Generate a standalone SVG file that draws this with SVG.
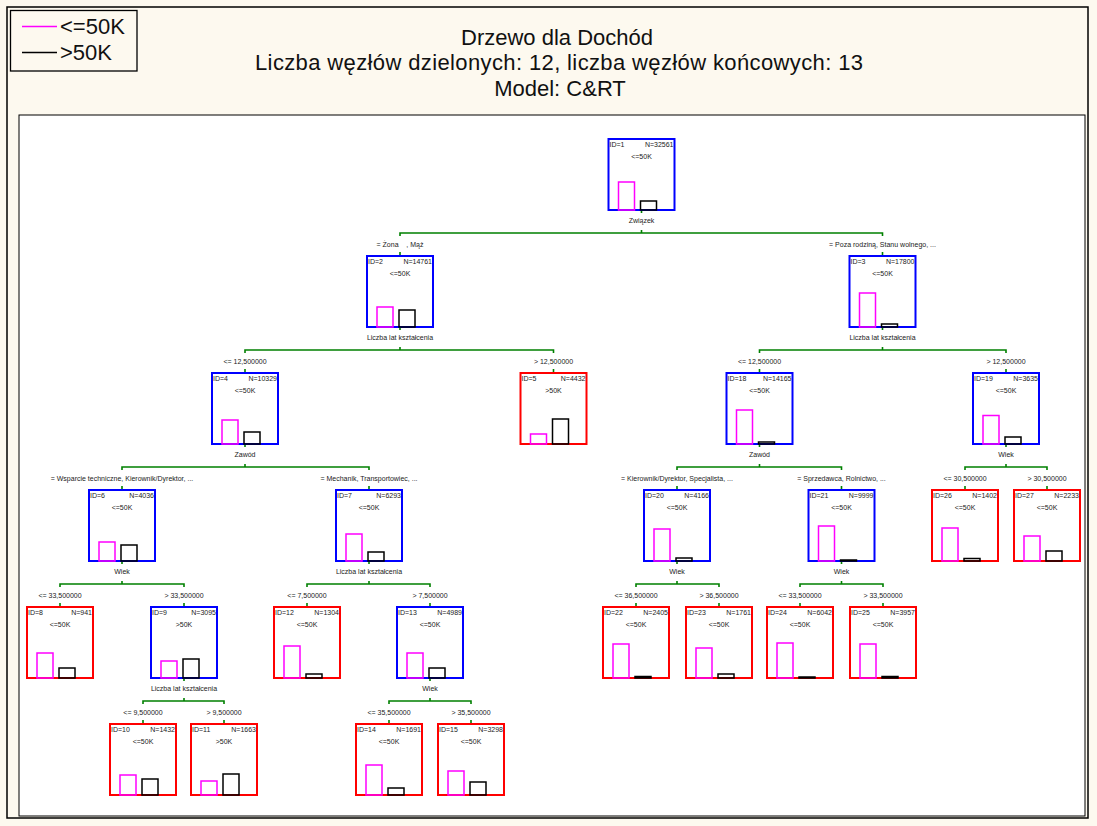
<svg xmlns="http://www.w3.org/2000/svg" width="1097" height="826" viewBox="0 0 1097 826">
<style>
.bg{fill:#fdf9ef}
.frame{fill:none;stroke:#000;stroke-width:1.5}
.plot{fill:#fff;stroke:#000;stroke-width:1}
.nb{fill:#fff;stroke:#0000ff;stroke-width:2}
.nr{fill:#fff;stroke:#ff0000;stroke-width:2}
.bm{fill:none;stroke:#ff00ff;stroke-width:1.5}
.bk{fill:none;stroke:#000;stroke-width:1.5}
.t{font-family:"Liberation Sans",Arial,sans-serif;font-size:7px;fill:#222}
.m{text-anchor:middle}
.e{text-anchor:end}
.title{font-family:"Liberation Sans",Arial,sans-serif;font-size:22px;fill:#111;text-anchor:middle}
.leg{font-family:"Liberation Sans",Arial,sans-serif;font-size:22px;fill:#111}
.conn{fill:none;stroke:#008000;stroke-width:1.6}
</style>
<rect class="bg" x="0" y="0" width="1097" height="826"/>
<rect class="frame" x="7" y="7" width="1081" height="811"/>
<rect class="plot" x="19" y="115" width="1066" height="701"/>
<g id="legend">
<rect x="10.5" y="10.5" width="126.5" height="60.5" fill="#fdf9ef" stroke="#000" stroke-width="1.3"/>
<line x1="22" y1="26.5" x2="57" y2="26.5" stroke="#ff00ff" stroke-width="1.3"/>
<text class="leg" x="60" y="34">&lt;=50K</text>
<line x1="22" y1="52.5" x2="57" y2="52.5" stroke="#000" stroke-width="1.3"/>
<text class="leg" x="60" y="60">&gt;50K</text>
</g>
<g id="title">
<text class="title" x="557" y="45">Drzewo dla Dochód</text>
<text class="title" x="559" y="70" textLength="608" lengthAdjust="spacing">Liczba węzłów dzielonych: 12, liczba węzłów końcowych: 13</text>
<text class="title" x="560" y="96">Model: C&amp;RT</text>
</g>
<g id="connectors" class="conn">
<path d="M641.5 210V213M400 236V233H882.5V236M641.5 233V230M400 252V256M882.5 252V256"/>
<path d="M400 327V330M245 353V350H553.5V353M400 350V347M245 369V373M553.5 369V373"/>
<path d="M882.5 327V330M759.5 353V350H1006V353M882.5 350V347M759.5 369V373M1006 369V373"/>
<path d="M245 444V447M122 470V467H369V470M245 467V464M122 486V490M369 486V490"/>
<path d="M759.5 444V447M677 470V467H841.5V470M759.5 467V464M677 486V490M841.5 486V490"/>
<path d="M1006 444V447M965 470V467H1047V470M1006 467V464M965 486V490M1047 486V490"/>
<path d="M122 561V564M60 587V584H184V587M122 584V581M60 603V607M184 603V607"/>
<path d="M369 561V564M307 587V584H430V587M369 584V581M307 603V607M430 603V607"/>
<path d="M677 561V564M636 587V584H719V587M677 584V581M636 603V607M719 603V607"/>
<path d="M841.5 561V564M800 587V584H883V587M841.5 584V581M800 603V607M883 603V607"/>
<path d="M184 678V681M143 704V701H224V704M184 701V698M143 720V724M224 720V724"/>
<path d="M430 678V681M389 704V701H471V704M430 701V698M389 720V724M471 720V724"/>
</g>
<g id="edge-labels" class="t m">
<text x="400" y="247" xml:space="preserve">= Żona    , Mąż</text>
<text x="882.5" y="247">= Poza rodziną, Stanu wolnego, ...</text>
<text x="245" y="364">&lt;= 12,500000</text>
<text x="553.5" y="364">&gt; 12,500000</text>
<text x="759.5" y="364">&lt;= 12,500000</text>
<text x="1006" y="364">&gt; 12,500000</text>
<text x="122" y="481">= Wsparcie techniczne, Kierownik/Dyrektor, ...</text>
<text x="369" y="481">= Mechanik, Transportowiec, ...</text>
<text x="677" y="481">= Kierownik/Dyrektor, Specjalista, ...</text>
<text x="841.5" y="481">= Sprzedawca, Rolnictwo, ...</text>
<text x="965" y="481">&lt;= 30,500000</text>
<text x="1047" y="481">&gt; 30,500000</text>
<text x="60" y="598">&lt;= 33,500000</text>
<text x="184" y="598">&gt; 33,500000</text>
<text x="307" y="598">&lt;= 7,500000</text>
<text x="430" y="598">&gt; 7,500000</text>
<text x="636" y="598">&lt;= 36,500000</text>
<text x="719" y="598">&gt; 36,500000</text>
<text x="800" y="598">&lt;= 33,500000</text>
<text x="883" y="598">&gt; 33,500000</text>
<text x="143" y="715">&lt;= 9,500000</text>
<text x="224" y="715">&gt; 9,500000</text>
<text x="389" y="715">&lt;= 35,500000</text>
<text x="471" y="715">&gt; 35,500000</text>
</g>
<g id="split-labels" class="t m">
<text x="641.5" y="223">Związek</text>
<text x="400" y="340">Liczba lat kształcenia</text>
<text x="882.5" y="340">Liczba lat kształcenia</text>
<text x="245" y="457">Zawód</text>
<text x="759.5" y="457">Zawód</text>
<text x="1006" y="457">Wiek</text>
<text x="122" y="574">Wiek</text>
<text x="369" y="574">Liczba lat kształcenia</text>
<text x="677" y="574">Wiek</text>
<text x="841.5" y="574">Wiek</text>
<text x="184" y="691">Liczba lat kształcenia</text>
<text x="430" y="691">Wiek</text>
</g>
<g id="node1"><rect class="nb" x="608.5" y="139" width="66" height="71"/><text class="t" x="609.5" y="146.5">ID=1</text><text class="t e" x="673.5" y="146.5">N=32561</text><text class="t m" x="641.5" y="159">&lt;=50K</text><rect class="bm" x="618.5" y="182" width="16" height="28"/><rect class="bk" x="640.5" y="201" width="16" height="9"/></g>
<g id="node2"><rect class="nb" x="367" y="256" width="66" height="71"/><text class="t" x="368" y="263.5">ID=2</text><text class="t e" x="432" y="263.5">N=14761</text><text class="t m" x="400" y="276">&lt;=50K</text><rect class="bm" x="377" y="307" width="16" height="20"/><rect class="bk" x="399" y="310" width="16" height="17"/></g>
<g id="node3"><rect class="nb" x="849.5" y="256" width="66" height="71"/><text class="t" x="850.5" y="263.5">ID=3</text><text class="t e" x="914.5" y="263.5">N=17800</text><text class="t m" x="882.5" y="276">&lt;=50K</text><rect class="bm" x="859.5" y="293" width="16" height="34"/><rect class="bk" x="881.5" y="324" width="16" height="3"/></g>
<g id="node4"><rect class="nb" x="212" y="373" width="66" height="71"/><text class="t" x="213" y="380.5">ID=4</text><text class="t e" x="277" y="380.5">N=10329</text><text class="t m" x="245" y="393">&lt;=50K</text><rect class="bm" x="222" y="420" width="16" height="24"/><rect class="bk" x="244" y="432" width="16" height="12"/></g>
<g id="node5"><rect class="nr" x="520.5" y="373" width="66" height="71"/><text class="t" x="521.5" y="380.5">ID=5</text><text class="t e" x="585.5" y="380.5">N=4432</text><text class="t m" x="553.5" y="393">&gt;50K</text><rect class="bm" x="530.5" y="434" width="16" height="10"/><rect class="bk" x="552.5" y="419" width="16" height="25"/></g>
<g id="node18"><rect class="nb" x="726.5" y="373" width="66" height="71"/><text class="t" x="727.5" y="380.5">ID=18</text><text class="t e" x="791.5" y="380.5">N=14165</text><text class="t m" x="759.5" y="393">&lt;=50K</text><rect class="bm" x="736.5" y="410" width="16" height="34"/><rect class="bk" x="758.5" y="442" width="16" height="2"/></g>
<g id="node19"><rect class="nb" x="973" y="373" width="66" height="71"/><text class="t" x="974" y="380.5">ID=19</text><text class="t e" x="1038" y="380.5">N=3635</text><text class="t m" x="1006" y="393">&lt;=50K</text><rect class="bm" x="983" y="415.5" width="16" height="28.5"/><rect class="bk" x="1005" y="437" width="16" height="7"/></g>
<g id="node6"><rect class="nb" x="89" y="490" width="66" height="71"/><text class="t" x="90" y="497.5">ID=6</text><text class="t e" x="154" y="497.5">N=4036</text><text class="t m" x="122" y="510">&lt;=50K</text><rect class="bm" x="99" y="542" width="16" height="19"/><rect class="bk" x="121" y="545" width="16" height="16"/></g>
<g id="node7"><rect class="nb" x="336" y="490" width="66" height="71"/><text class="t" x="337" y="497.5">ID=7</text><text class="t e" x="401" y="497.5">N=6293</text><text class="t m" x="369" y="510">&lt;=50K</text><rect class="bm" x="346" y="534" width="16" height="27"/><rect class="bk" x="368" y="552" width="16" height="9"/></g>
<g id="node20"><rect class="nb" x="644" y="490" width="66" height="71"/><text class="t" x="645" y="497.5">ID=20</text><text class="t e" x="709" y="497.5">N=4166</text><text class="t m" x="677" y="510">&lt;=50K</text><rect class="bm" x="654" y="529" width="16" height="32"/><rect class="bk" x="676" y="558" width="16" height="3"/></g>
<g id="node21"><rect class="nb" x="808.5" y="490" width="66" height="71"/><text class="t" x="809.5" y="497.5">ID=21</text><text class="t e" x="873.5" y="497.5">N=9999</text><text class="t m" x="841.5" y="510">&lt;=50K</text><rect class="bm" x="818.5" y="526" width="16" height="35"/><rect class="bk" x="840.5" y="560" width="16" height="1"/></g>
<g id="node26"><rect class="nr" x="932" y="490" width="66" height="71"/><text class="t" x="933" y="497.5">ID=26</text><text class="t e" x="997" y="497.5">N=1402</text><text class="t m" x="965" y="510">&lt;=50K</text><rect class="bm" x="942" y="528" width="16" height="33"/><rect class="bk" x="964" y="558.5" width="16" height="2.5"/></g>
<g id="node27"><rect class="nr" x="1014" y="490" width="66" height="71"/><text class="t" x="1015" y="497.5">ID=27</text><text class="t e" x="1079" y="497.5">N=2233</text><text class="t m" x="1047" y="510">&lt;=50K</text><rect class="bm" x="1024" y="536" width="16" height="25"/><rect class="bk" x="1046" y="551" width="16" height="10"/></g>
<g id="node8"><rect class="nr" x="27" y="607" width="66" height="71"/><text class="t" x="28" y="614.5">ID=8</text><text class="t e" x="92" y="614.5">N=941</text><text class="t m" x="60" y="627">&lt;=50K</text><rect class="bm" x="37" y="653" width="16" height="25"/><rect class="bk" x="59" y="668" width="16" height="10"/></g>
<g id="node9"><rect class="nb" x="151" y="607" width="66" height="71"/><text class="t" x="152" y="614.5">ID=9</text><text class="t e" x="216" y="614.5">N=3095</text><text class="t m" x="184" y="627">&gt;50K</text><rect class="bm" x="161" y="661" width="16" height="17"/><rect class="bk" x="183" y="659" width="16" height="19"/></g>
<g id="node12"><rect class="nr" x="274" y="607" width="66" height="71"/><text class="t" x="275" y="614.5">ID=12</text><text class="t e" x="339" y="614.5">N=1304</text><text class="t m" x="307" y="627">&lt;=50K</text><rect class="bm" x="284" y="646" width="16" height="32"/><rect class="bk" x="306" y="674" width="16" height="4"/></g>
<g id="node13"><rect class="nb" x="397" y="607" width="66" height="71"/><text class="t" x="398" y="614.5">ID=13</text><text class="t e" x="462" y="614.5">N=4989</text><text class="t m" x="430" y="627">&lt;=50K</text><rect class="bm" x="407" y="653" width="16" height="25"/><rect class="bk" x="429" y="668" width="16" height="10"/></g>
<g id="node22"><rect class="nr" x="603" y="607" width="66" height="71"/><text class="t" x="604" y="614.5">ID=22</text><text class="t e" x="668" y="614.5">N=2405</text><text class="t m" x="636" y="627">&lt;=50K</text><rect class="bm" x="613" y="644" width="16" height="34"/><rect class="bk" x="635" y="676.5" width="16" height="1.5"/></g>
<g id="node23"><rect class="nr" x="686" y="607" width="66" height="71"/><text class="t" x="687" y="614.5">ID=23</text><text class="t e" x="751" y="614.5">N=1761</text><text class="t m" x="719" y="627">&lt;=50K</text><rect class="bm" x="696" y="648" width="16" height="30"/><rect class="bk" x="718" y="674" width="16" height="4"/></g>
<g id="node24"><rect class="nr" x="767" y="607" width="66" height="71"/><text class="t" x="768" y="614.5">ID=24</text><text class="t e" x="832" y="614.5">N=6042</text><text class="t m" x="800" y="627">&lt;=50K</text><rect class="bm" x="777" y="643" width="16" height="35"/><rect class="bk" x="799" y="677" width="16" height="1"/></g>
<g id="node25"><rect class="nr" x="850" y="607" width="66" height="71"/><text class="t" x="851" y="614.5">ID=25</text><text class="t e" x="915" y="614.5">N=3957</text><text class="t m" x="883" y="627">&lt;=50K</text><rect class="bm" x="860" y="644" width="16" height="34"/><rect class="bk" x="882" y="676.5" width="16" height="1.5"/></g>
<g id="node10"><rect class="nr" x="110" y="724" width="66" height="71"/><text class="t" x="111" y="731.5">ID=10</text><text class="t e" x="175" y="731.5">N=1432</text><text class="t m" x="143" y="744">&lt;=50K</text><rect class="bm" x="120" y="775" width="16" height="20"/><rect class="bk" x="142" y="779" width="16" height="16"/></g>
<g id="node11"><rect class="nr" x="191" y="724" width="66" height="71"/><text class="t" x="192" y="731.5">ID=11</text><text class="t e" x="256" y="731.5">N=1663</text><text class="t m" x="224" y="744">&gt;50K</text><rect class="bm" x="201" y="781" width="16" height="14"/><rect class="bk" x="223" y="774" width="16" height="21"/></g>
<g id="node14"><rect class="nr" x="356" y="724" width="66" height="71"/><text class="t" x="357" y="731.5">ID=14</text><text class="t e" x="421" y="731.5">N=1691</text><text class="t m" x="389" y="744">&lt;=50K</text><rect class="bm" x="366" y="765" width="16" height="30"/><rect class="bk" x="388" y="788" width="16" height="7"/></g>
<g id="node15"><rect class="nr" x="438" y="724" width="66" height="71"/><text class="t" x="439" y="731.5">ID=15</text><text class="t e" x="503" y="731.5">N=3298</text><text class="t m" x="471" y="744">&lt;=50K</text><rect class="bm" x="448" y="771" width="16" height="24"/><rect class="bk" x="470" y="782" width="16" height="13"/></g>
</svg>
